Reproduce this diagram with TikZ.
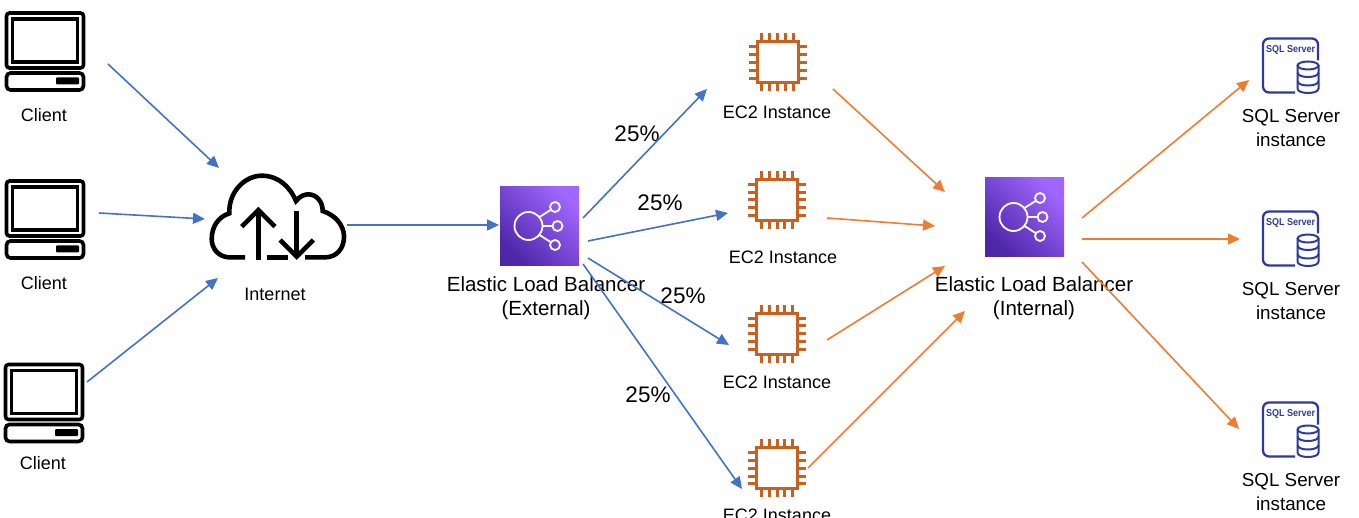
\documentclass[tikz,border=0pt]{standalone}
\usepackage{fontspec}
\setmainfont{Liberation Sans}
\usetikzlibrary{arrows.meta}
\definecolor{linkblue}{HTML}{4472C4}
\definecolor{linkorange}{HTML}{ED7D31}
\definecolor{chipcolor}{HTML}{C8611F}
\definecolor{sqlblue}{HTML}{2E3A9E}
\definecolor{elbdark}{HTML}{4D27A8}
\definecolor{elblight}{HTML}{A166FF}

\tikzset{
	iconbox/.style={minimum size=#1, inner sep=0pt},
	smalltext/.style={font=\fontsize{18}{22}\selectfont, align=center, inner sep=0pt},
	bigtext/.style={font=\fontsize{20.5}{24}\selectfont, align=center, inner sep=0pt},
	sqltext/.style={font=\fontsize{18.8}{23.5}\selectfont, align=center, inner sep=0pt},
	pcttext/.style={font=\fontsize{22.5}{26}\selectfont, inner sep=0pt},
	bluelink/.style={-{Triangle[length=12pt,width=11pt]}, color=linkblue, line width=1.6pt},
	orangelink/.style={-{Triangle[length=12pt,width=11pt]}, color=linkorange, line width=1.6pt},
	client/.pic={
		\draw[line width=3.6pt, rounded corners=3pt] (-38.5,-38) rectangle (38.5,17);
		\draw[line width=3.4pt] (-32.5,-32) rectangle (32.5,11);
		\draw[line width=3.6pt, rounded corners=4pt] (-38.5,22) rectangle (38.5,39);
		\fill[rounded corners=1pt] (11,26.5) rectangle (34,33.5);
	},
	cloud/.pic={
		\begin{scope}[scale=1/3, shift={(-233,-155)}, line width=4.6pt]
		\draw (135,277) -- (90,277) .. controls (55,277) and (35,250) .. (35,222)
			.. controls (35,185) and (55,155) .. (88,145)
			.. controls (85,80) and (135,32) .. (185,32)
			.. controls (235,32) and (270,65) .. (288,108)
			.. controls (300,92) and (315,88) .. (325,88)
			.. controls (350,88) and (368,110) .. (368,138)
			.. controls (405,150) and (432,180) .. (432,215)
			.. controls (432,250) and (410,277) .. (375,277) -- (315,277);
		\draw (200,277) -- (265,277);
		\draw (175,286) -- (175,135);
		\draw (125,185) -- (175,135) -- (225,185);
		\draw (290,138) -- (290,275);
		\draw (240,225) -- (290,275) -- (340,225);
		\end{scope}
	},
	balancer/.pic={
		\shade[bottom color=elbdark, top color=elblight, shading angle=-45] (-39.5,-39.5) rectangle (39.5,39.5);
		\begin{scope}[draw=white, line width=1.8pt]
		\draw (-11,0) circle (14);
		\draw (15.5,-19) circle (5);
		\draw (18,0) circle (5);
		\draw (15.5,19) circle (5);
		\draw (0,-9) -- (11,-16);
		\draw (3,0) -- (13,0);
		\draw (0,9) -- (11,16);
		\end{scope}
	},
	chip/.pic={
		\draw[chipcolor, line width=3pt] (-20.5,-20.5) rectangle (20.5,20.5);
		\foreach \p in {-15.6,-7.8,0,7.8,15.6} {
			\draw[chipcolor, line width=3pt] (\p,-29) -- (\p,-20.5) (\p,20.5) -- (\p,29);
			\draw[chipcolor, line width=3pt] (-29,\p) -- (-20.5,\p) (20.5,\p) -- (29,\p);
		}
	},
	sqlserver/.pic={
		\draw[sqlblue, line width=2.3pt, rounded corners=6pt] (27.5,-5) -- (27.5,-27) -- (-27.5,-27) -- (-27.5,27) -- (4.5,27);
		\node[text=sqlblue, inner sep=0pt, xscale=0.9, font=\fontsize{10}{11}\bfseries\selectfont] at (0,-16) {SQL Server};
		\begin{scope}[sqlblue, line width=2pt]
		\draw (17.5,0) ellipse (10.5 and 4);
		\draw (7,0) -- (7,23) .. controls (7,29) and (28,29) .. (28,23) -- (28,0);
		\draw (7,7) .. controls (7,13) and (28,13) .. (28,7);
		\draw (7,15.5) .. controls (7,21.5) and (28,21.5) .. (28,15.5);
		\end{scope}
	},
}

\begin{document}
\begin{tikzpicture}[x=1pt,y=-1pt]
	\useasboundingbox (0,0) rectangle (1359,518);
	\clip (0,0) rectangle (1359,518);

	% clients
	\node[iconbox=78pt] (client1) at (45,51) {};
	\node[iconbox=78pt] (client2) at (45,219) {};
	\node[iconbox=78pt] (client3) at (44,402.5) {};
	\foreach \n in {client1,client2,client3} \pic at (\n) {client};
	\node[smalltext] (clientlabel1) at (44,115) {Client};
	\node[smalltext] (clientlabel2) at (44,283) {Client};
	\node[smalltext] (clientlabel3) at (43,463) {Client};

	% internet
	\node[iconbox=130pt] (internet) at (277.7,216.7) {};
	\pic at (internet) {cloud};
	\node[smalltext] (internetlabel) at (275,294) {Internet};

	% load balancers
	\node[iconbox=79pt] (elbext) at (539.5,226) {};
	\node[iconbox=79pt] (elbint) at (1024.5,217) {};
	\pic at (elbext) {balancer};
	\pic at (elbint) {balancer};
	\node[bigtext] (elbextlabel) at (546,298) {Elastic Load Balancer\\(External)};
	\node[bigtext] (elbintlabel) at (1034,298) {Elastic Load Balancer\\(Internal)};

	% instances
	\node[iconbox=58pt] (ec2a) at (777.5,62.5) {};
	\node[iconbox=58pt] (ec2b) at (777,200) {};
	\node[iconbox=58pt] (ec2c) at (777,333.7) {};
	\node[iconbox=58pt] (ec2d) at (777,468.3) {};
	\foreach \n in {ec2a,ec2b,ec2c,ec2d} \pic at (\n) {chip};
	\node[smalltext] (ec2alabel) at (777,112) {EC2 Instance};
	\node[smalltext] (ec2blabel) at (783,257) {EC2 Instance};
	\node[smalltext] (ec2clabel) at (777,382) {EC2 Instance};
	\node[smalltext] (ec2dlabel) at (777,515) {EC2 Instance};

	% sql servers
	\node[iconbox=58pt] (sqla) at (1290.5,65.5) {};
	\node[iconbox=58pt] (sqlb) at (1290.5,238.5) {};
	\node[iconbox=58pt] (sqlc) at (1290.5,429.5) {};
	\foreach \n in {sqla,sqlb,sqlc} \pic at (\n) {sqlserver};
	\node[sqltext] (sqlalabel) at (1291,128) {SQL Server\\instance};
	\node[sqltext] (sqlblabel) at (1291,301) {SQL Server\\instance};
	\node[sqltext] (sqlclabel) at (1291,492) {SQL Server\\instance};

	% percentages
	\node[pcttext] (pcta) at (637,134) {25\%};
	\node[pcttext] (pctb) at (660,203) {25\%};
	\node[pcttext] (pctc) at (683,296) {25\%};
	\node[pcttext] (pctd) at (648,395) {25\%};

	% link ends
	\coordinate (client1out) at (108,64);
	\coordinate (client2out) at (99,213);
	\coordinate (client3out) at (87,382);
	\coordinate (inetin1) at (219,168);
	\coordinate (inetin2) at (205,219);
	\coordinate (inetin3) at (218,278);
	\coordinate (inetout) at (347,225);
	\coordinate (elbextin) at (499,225);
	\coordinate (elbextouta) at (583,218);
	\coordinate (elbextoutb) at (588,241);
	\coordinate (elbextoutc) at (588,258);
	\coordinate (elbextoutd) at (583,264);
	\coordinate (ec2ain) at (707,89);
	\coordinate (ec2bin) at (728,213);
	\coordinate (ec2cin) at (729,345);
	\coordinate (ec2din) at (742,489);
	\coordinate (ec2aout) at (833,89);
	\coordinate (ec2bout) at (827,218);
	\coordinate (ec2cout) at (827,340);
	\coordinate (ec2dout) at (808,468);
	\coordinate (elbintina) at (945,192);
	\coordinate (elbintinb) at (935,226);
	\coordinate (elbintinc) at (945,266);
	\coordinate (elbintind) at (965,311);
	\coordinate (elbintouta) at (1082,218);
	\coordinate (elbintoutb) at (1082,239);
	\coordinate (elbintoutc) at (1082,262);
	\coordinate (sqlain) at (1249,80);
	\coordinate (sqlbin) at (1240,239);
	\coordinate (sqlcin) at (1239,429);

	\path
	(client1out) edge[bluelink] (inetin1)
	(client2out) edge[bluelink] (inetin2)
	(client3out) edge[bluelink] (inetin3)
	(inetout) edge[bluelink] (elbextin)
	(elbextouta) edge[bluelink] (ec2ain)
	(elbextoutb) edge[bluelink] (ec2bin)
	(elbextoutc) edge[bluelink] (ec2cin)
	(elbextoutd) edge[bluelink] (ec2din)
	(ec2aout) edge[orangelink] (elbintina)
	(ec2bout) edge[orangelink] (elbintinb)
	(ec2cout) edge[orangelink] (elbintinc)
	(ec2dout) edge[orangelink] (elbintind)
	(elbintouta) edge[orangelink] (sqlain)
	(elbintoutb) edge[orangelink] (sqlbin)
	(elbintoutc) edge[orangelink] (sqlcin)
	;
\end{tikzpicture}
\end{document}
